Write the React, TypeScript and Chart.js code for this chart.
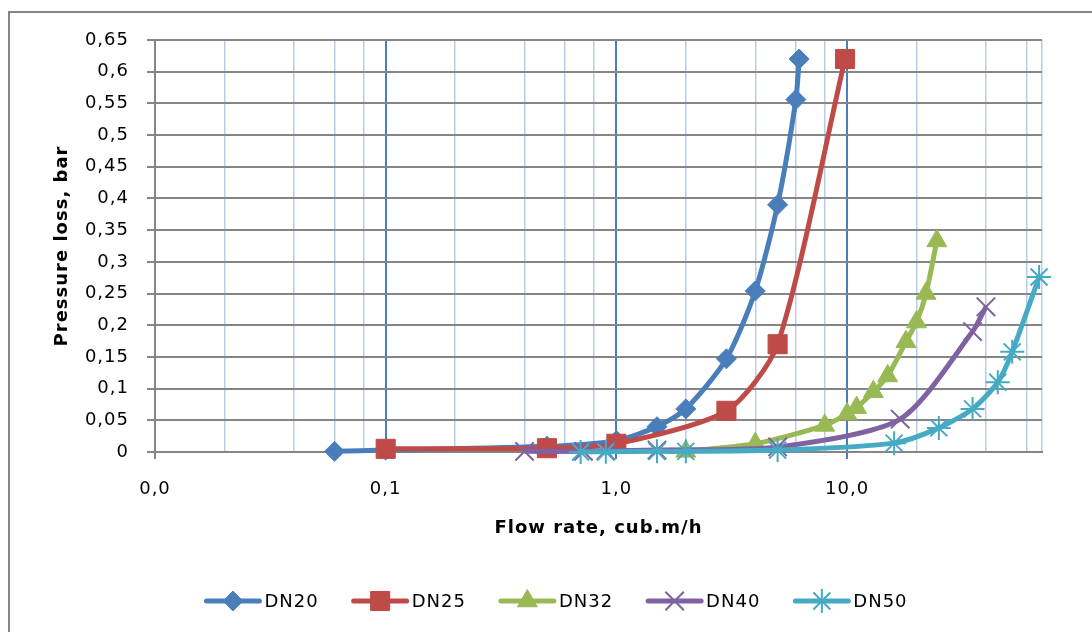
import React, { useEffect, useRef } from 'react';
import { Chart, registerables } from 'chart.js';
import { drawPoint } from 'chart.js/helpers';

Chart.register(...registerables);

const seriesNames = ['DN20', 'DN25', 'DN32', 'DN40', 'DN50'];

const dn20Flow = [0.06, 0.1, 0.5, 1, 1.5, 2, 3, 4, 5, 6, 6.2];
const dn20Loss = [0.001, 0.003, 0.009, 0.018, 0.04, 0.068, 0.147, 0.254, 0.39, 0.556, 0.62];

const dn25Flow = [0.1, 0.5, 1, 3, 5, 9.8];
const dn25Loss = [0.005, 0.006, 0.013, 0.065, 0.17, 0.62];

const dn32Flow = [2, 4, 8, 10, 11, 13, 15, 18, 20, 22, 24.5];
const dn32Loss = [0.001, 0.013, 0.042, 0.06, 0.07, 0.095, 0.12, 0.174, 0.205, 0.25, 0.333];

const dn40Flow = [0.4, 0.72, 0.9, 1.5, 5, 17, 35, 40];
const dn40Loss = [0.001, 0.001, 0.002, 0.003, 0.008, 0.052, 0.19, 0.229];

const dn50Flow = [0.7, 0.9, 1.5, 2, 5, 16, 25, 35, 45, 52, 68];
const dn50Loss = [0, 0.0005, 0.001, 0.001, 0.003, 0.014, 0.038, 0.068, 0.11, 0.158, 0.276];

const seriesFlows = [dn20Flow, dn25Flow, dn32Flow, dn40Flow, dn50Flow];
const seriesLosses = [dn20Loss, dn25Loss, dn32Loss, dn40Loss, dn50Loss];
const seriesColors = ['#4A7EBB', '#BE4B48', '#98B954', '#7E62A1', '#46AAC5'];
const seriesMarkers = ['rectRot', 'rect', 'triangle', 'crossRot', 'star'];
const seriesMarkerRadius = [10, 13.5, 11.5, 13, 12];
const seriesMarkerBorder = [1, 1, 1, 2, 2];

const yTickValues = [0, 0.05, 0.1, 0.15, 0.2, 0.25, 0.3, 0.35, 0.4, 0.45, 0.5, 0.55, 0.6, 0.65];
const yTickLabels = ['0', '0,05', '0,1', '0,15', '0,2', '0,25', '0,3', '0,35', '0,4', '0,45', '0,5', '0,55', '0,6', '0,65'];

const xMajorValues = [0.01, 0.1, 1, 10];
const xMajorLabels = ['0,0', '0,1', '1,0', '10,0'];
const xMinorValues = [0.02, 0.04, 0.06, 0.08, 0.2, 0.4, 0.6, 0.8, 2, 4, 6, 8, 20, 40, 60, 70];

const FONT = 'DejaVu Sans';
const SPACING = '1px';
const GRAY = '#868686';
const MAJOR_BLUE = '#4A7EBB';
const MINOR_BLUE = '#B9CDE5';

const isMajor = (v: number) => xMajorValues.some((m) => Math.abs(m - v) / m < 1e-6);

const spacingPlugin = {
  id: 'letterSpacing',
  beforeDraw(chart: any) {
    (chart.ctx as any).letterSpacing = SPACING;
  },
};

const legendPlugin = {
  id: 'lineMarkerLegend',
  afterDraw(chart: any) {
    const ctx = chart.ctx;
    ctx.save();
    ctx.font = `18px "${FONT}"`;
    (ctx as any).letterSpacing = SPACING;
    ctx.textBaseline = 'middle';
    ctx.textAlign = 'left';
    const lineLen = 53;
    const gapText = 5;
    const gapItem = 35;
    const datasets = chart.data.datasets;
    const widths = datasets.map((ds: any) => ctx.measureText(ds.label).width);
    const total =
      widths.reduce((a: number, w: number) => a + lineLen + gapText + w, 0) + gapItem * (datasets.length - 1);
    let x = 557 - total / 2;
    const y = 601;
    datasets.forEach((ds: any, i: number) => {
      ctx.strokeStyle = ds.borderColor;
      ctx.lineWidth = 5;
      ctx.lineCap = 'round';
      ctx.beginPath();
      ctx.moveTo(x, y);
      ctx.lineTo(x + lineLen, y);
      ctx.stroke();
      ctx.fillStyle = ds.pointBackgroundColor;
      ctx.strokeStyle = ds.pointBorderColor;
      ctx.lineWidth = ds.pointBorderWidth;
      ctx.lineCap = 'butt';
      drawPoint(
        ctx,
        { pointStyle: ds.pointStyle, radius: ds.pointRadius, rotation: 0, borderWidth: ds.pointBorderWidth },
        x + lineLen / 2,
        y
      );
      ctx.fillStyle = '#000';
      ctx.fillText(ds.label, x + lineLen + gapText, y + 1);
      x += lineLen + gapText + widths[i] + gapItem;
    });
    ctx.restore();
  },
};

export default function App() {
  const canvasRef = useRef<HTMLCanvasElement | null>(null);

  useEffect(() => {
    const canvas = canvasRef.current;
    if (!canvas) return;

    const datasets = seriesNames.map((name, i) => ({
      label: name,
      data: seriesFlows[i].map((x, j) => ({ x, y: seriesLosses[i][j] })),
      borderColor: seriesColors[i],
      backgroundColor: seriesColors[i],
      pointBackgroundColor: seriesColors[i],
      pointBorderColor: seriesColors[i],
      pointStyle: seriesMarkers[i],
      pointRadius: seriesMarkerRadius[i],
      pointBorderWidth: seriesMarkerBorder[i],
      borderWidth: 5,
      tension: 0.25,
      fill: false,
      clip: false as any,
      order: seriesNames.length - 1 - i,
    }));

    const chart = new Chart(canvas, {
      type: 'line',
      data: { datasets },
      plugins: [spacingPlugin, legendPlugin],
      options: {
        animation: false,
        responsive: false,
        devicePixelRatio: 1,
        layout: { padding: { left: 0, top: 40, right: 50, bottom: 0 } },
        plugins: {
          legend: { display: false },
          tooltip: { enabled: false },
        },
        scales: {
          x: {
            type: 'logarithmic',
            position: 'bottom',
            min: 0.01,
            max: 70,
            afterBuildTicks: (scale: any) => {
              const vals = [...xMajorValues, ...xMinorValues].sort((a, b) => a - b);
              scale.ticks = vals.map((v) => ({ value: v, major: false }));
            },
            afterFit: (scale: any) => {
              scale.height = 180;
            },
            grid: {
              z: -2,
              color: (c: any) => (c.tick && isMajor(c.tick.value) ? MAJOR_BLUE : MINOR_BLUE),
              lineWidth: (c: any) => (c.tick && isMajor(c.tick.value) ? 2 : 1.5),
              tickLength: 7,
              tickColor: (c: any) =>
                c.tick && isMajor(c.tick.value) ? (c.tick.value === 0.01 ? GRAY : MAJOR_BLUE) : 'rgba(0,0,0,0)',
              tickWidth: 2,
            },
            border: { color: GRAY, width: 2 },
            ticks: {
              autoSkip: false,
              maxRotation: 0,
              minRotation: 0,
              padding: 20,
              color: '#000',
              font: { family: FONT, size: 18 },
              callback: (value: any) => {
                const idx = xMajorValues.findIndex((m) => Math.abs(m - Number(value)) / m < 1e-6);
                return idx >= 0 ? xMajorLabels[idx] : '';
              },
            },
            title: {
              display: true,
              text: 'Flow rate, cub.m/h',
              color: '#000',
              font: { family: FONT, size: 18, weight: 'bold' },
              padding: { top: 0, bottom: 93 },
            },
          },
          y: {
            type: 'linear',
            position: 'left',
            min: 0,
            max: 0.65,
            afterBuildTicks: (scale: any) => {
              scale.ticks = yTickValues.map((v) => ({ value: v }));
            },
            afterFit: (scale: any) => {
              scale.width = 155;
            },
            grid: {
              z: -1,
              color: GRAY,
              lineWidth: 2,
              tickLength: 8,
              tickColor: GRAY,
              tickWidth: 2,
            },
            border: { color: GRAY, width: 2 },
            ticks: {
              autoSkip: false,
              padding: 18,
              color: '#000',
              font: { family: FONT, size: 18 },
              callback: (_v: any, index: number) => yTickLabels[index],
            },
            title: {
              display: true,
              text: 'Pressure loss, bar',
              color: '#000',
              font: { family: FONT, size: 18, weight: 'bold' },
              padding: { top: 52, bottom: 0 },
            },
          },
        },
      } as any,
    });

    return () => {
      chart.destroy();
    };
  }, []);

  return (
    <div
      style={{
        position: 'fixed',
        left: 0,
        top: 0,
        width: 1092,
        height: 632,
        background: '#fff',
        overflow: 'hidden',
      }}
    >
      <div
        style={{
          position: 'absolute',
          left: 8,
          top: 11,
          width: 1200,
          height: 800,
          borderTop: `2px solid ${GRAY}`,
          borderLeft: `2px solid ${GRAY}`,
        }}
      />
      <canvas
        ref={canvasRef}
        width={1092}
        height={632}
        style={{ position: 'absolute', left: 0, top: 0 }}
      />
    </div>
  );
}
